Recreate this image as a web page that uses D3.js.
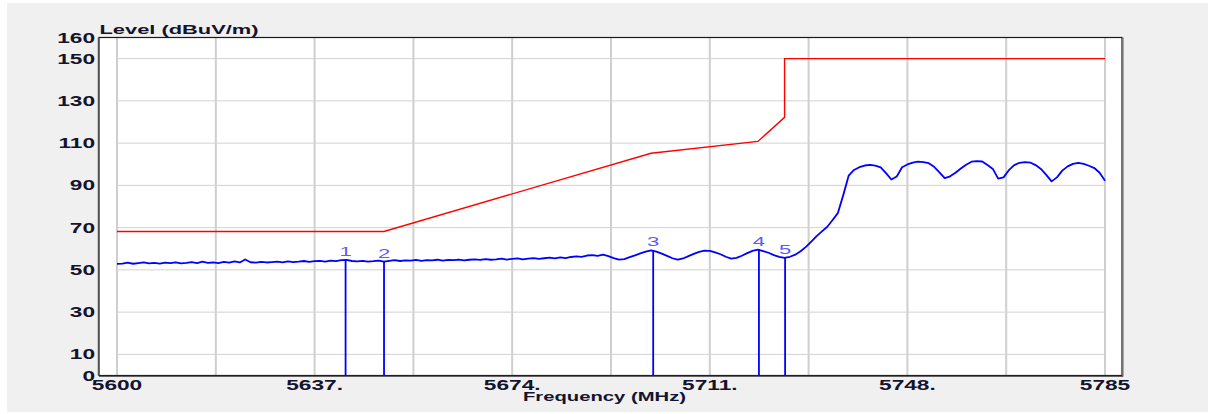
<!DOCTYPE html>
<html>
<head>
<meta charset="utf-8">
<script src="https://cdn.jsdelivr.net/npm/d3@7"></script>
<style>
  body { margin: 0; background: #ffffff; }
  svg { display: block; font-family: "Liberation Sans", Arial, sans-serif; }
</style>
</head>
<body>
<svg id="chart" width="1208" height="414"></svg>
<script>
// spectrum sweep, 1 MHz per point starting at 5600 MHz
const sweepStart = 5600;
const sweepStep = 1;
const traceLevels = [
  52.8, 53.0, 53.4, 52.9, 53.2, 53.5, 53.1, 53.3, 53.0, 53.4,
  53.2, 53.6, 53.1, 53.3, 53.7, 53.2, 53.9, 53.3, 53.5, 53.2,
  53.8, 53.4, 54.0, 53.5, 54.9, 53.6, 53.4, 53.8, 53.5, 53.7,
  53.9, 53.6, 54.0, 53.7, 53.9, 54.2, 53.8, 54.1, 54.3, 53.9,
  54.4, 54.1, 54.6, 54.7, 54.2, 54.0, 54.3, 53.9, 54.1, 54.4,
  53.9, 54.3, 54.6, 54.2, 54.5, 54.4, 54.7, 54.3, 54.6, 54.5,
  54.8, 54.4, 54.7, 54.6, 54.9, 54.5, 54.8, 55.0, 54.7, 55.1,
  54.8, 55.0, 55.3, 54.9, 55.2, 55.4, 55.0, 55.3, 55.6, 55.2,
  55.5, 55.8, 55.4, 55.9, 55.6, 56.1, 56.4, 56.2, 56.8, 57.0,
  56.6, 57.2, 56.5, 55.6, 54.9, 55.1, 56.0, 56.9, 57.8, 58.6,
  59.2, 58.6, 57.7, 56.6, 55.5, 54.8, 55.4, 56.5, 57.6, 58.5,
  59.1, 59.0, 58.3, 57.4, 56.2, 55.3, 55.7, 56.7, 57.9, 59.0,
  59.6, 58.9, 58.1, 57.0, 56.2, 55.7, 56.2, 57.2, 58.8, 60.9,
  63.4, 66.0, 68.2, 70.4, 73.6, 77.0, 85.5, 94.6, 97.3, 98.6,
  99.4, 99.7, 99.3, 98.5, 95.8, 92.8, 94.2, 98.6, 99.9, 100.8,
  101.2, 101.0, 100.5, 98.8, 96.2, 93.4, 94.3, 96.0, 98.0, 99.8,
  101.2, 101.5, 101.3, 99.6, 97.8, 93.2, 93.8, 97.2, 99.6, 100.7,
  101.0, 100.8, 99.6, 97.8, 95.0, 91.9, 93.8, 97.0, 99.0, 100.2,
  100.6, 100.2, 99.3, 98.2, 96.0, 92.2
];

// limit line corners
const limitFreqs = [5600, 5650, 5700, 5720, 5725, 5725, 5785];
const limitLevels = [68.2, 68.2, 105.2, 110.8, 122.2, 150, 150];

// markers
const markerNames = ["1", "2", "3", "4", "5"];
const markerFreqs = [5642.8, 5650, 5700.4, 5720.2, 5725.1];
const markerLevels = [54.6, 53.9, 59.3, 59.6, 55.8];

// axes
const xTickValues = [5600, 5637, 5674, 5711, 5748, 5785];
const xTickLabels = ["5600", "5637.", "5674.", "5711.", "5748.", "5785"];
const xGridValues = [5600, 5618.5, 5637, 5655.5, 5674, 5692.5, 5711, 5729.5, 5748, 5766.5, 5785];
const yTickValues = [0, 10, 30, 50, 70, 90, 110, 130, 150, 160];
const yGridValues = [10, 30, 50, 70, 90, 110, 130, 150];

const svg = d3.select("#chart");

// grey panel
svg.append("rect")
  .attr("x", 7).attr("y", 3)
  .attr("width", 1201).attr("height", 409)
  .attr("fill", "#f0f0f0");

const frame = { left: 99, top: 37.5, right: 1122, bottom: 375.5 };

svg.append("rect")
  .attr("x", frame.left).attr("y", frame.top)
  .attr("width", frame.right - frame.left)
  .attr("height", frame.bottom - frame.top)
  .attr("fill", "#ffffff");

const x = d3.scaleLinear().domain([5600, 5785]).range([117, 1105]);
const y = d3.scaleLinear().domain([0, 160]).range([frame.bottom, frame.top]);

// grid
svg.append("g").selectAll("line")
  .data(xGridValues)
  .join("line")
  .attr("x1", d => x(d)).attr("x2", d => x(d))
  .attr("y1", frame.top).attr("y2", frame.bottom)
  .attr("stroke", "#cfcfcf")
  .attr("stroke-width", 2);

svg.append("g").selectAll("line")
  .data(yGridValues)
  .join("line")
  .attr("x1", x(5600)).attr("x2", x(5785))
  .attr("y1", d => y(d)).attr("y2", d => y(d))
  .attr("stroke", "#d2d2d2")
  .attr("stroke-width", 1);

// limit line
const limitData = limitFreqs.map((f, i) => [f, limitLevels[i]]);
svg.append("path")
  .datum(limitData)
  .attr("d", d3.line().x(d => x(d[0])).y(d => y(d[1])))
  .attr("fill", "none")
  .attr("stroke", "#ff0000")
  .attr("stroke-width", 1.4);

// markers
svg.append("g").selectAll("line")
  .data(markerFreqs)
  .join("line")
  .attr("x1", d => x(d)).attr("x2", d => x(d))
  .attr("y1", y(0))
  .attr("y2", (d, i) => y(markerLevels[i]))
  .attr("stroke", "#0000ff")
  .attr("stroke-width", 1.8);

// trace
const traceData = traceLevels.map((v, i) => [sweepStart + i * sweepStep, v]);
svg.append("path")
  .datum(traceData)
  .attr("d", d3.line().x(d => x(d[0])).y(d => y(d[1])))
  .attr("fill", "none")
  .attr("stroke", "#0000ff")
  .attr("stroke-width", 1.8)
  .attr("stroke-linejoin", "round");

svg.append("g").selectAll("text")
  .data(markerNames)
  .join("text")
  .attr("transform", (d, i) => `translate(${x(markerFreqs[i])},${y(markerLevels[i]) - 4}) scale(1.7,1)`)
  .attr("text-anchor", "middle")
  .attr("font-size", 13)
  .attr("fill", "#5a5aff")
  .text(d => d);

// frame
svg.append("rect")
  .attr("x", frame.left).attr("y", frame.top)
  .attr("width", frame.right - frame.left)
  .attr("height", frame.bottom - frame.top)
  .attr("fill", "none")
  .attr("stroke", "#1a1a1a")
  .attr("stroke-width", 1.2);
svg.append("line")
  .attr("x1", frame.left - 0.5).attr("x2", frame.left - 0.5)
  .attr("y1", frame.top).attr("y2", frame.bottom)
  .attr("stroke", "#555").attr("stroke-width", 1.5);
svg.append("line")
  .attr("x1", frame.right + 1).attr("x2", frame.right + 1)
  .attr("y1", frame.top).attr("y2", frame.bottom + 1)
  .attr("stroke", "#777").attr("stroke-width", 1.2);
svg.append("line")
  .attr("x1", frame.left).attr("x2", frame.right + 1)
  .attr("y1", frame.bottom + 0.8).attr("y2", frame.bottom + 0.8)
  .attr("stroke", "#444").attr("stroke-width", 1);

// tick labels (the source picture is stretched sideways)
const labelColor = "#14142e";
svg.append("g").selectAll("text")
  .data(yTickValues)
  .join("text")
  .attr("transform", d => `translate(95,${y(d) + 5}) scale(1.62,1)`)
  .attr("text-anchor", "end")
  .attr("font-size", 14)
  .attr("font-weight", "bold")
  .attr("fill", labelColor)
  .text(d => d);

svg.append("g").selectAll("text")
  .data(xTickValues)
  .join("text")
  .attr("transform", d => `translate(${x(d)},390) scale(1.62,1)`)
  .attr("text-anchor", "middle")
  .attr("font-size", 14)
  .attr("font-weight", "bold")
  .attr("fill", labelColor)
  .text((d, i) => xTickLabels[i]);

svg.append("text")
  .attr("x", 99.5).attr("y", 33.5)
  .attr("font-size", 12)
  .attr("font-weight", "bold")
  .attr("fill", labelColor)
  .attr("textLength", 159)
  .attr("lengthAdjust", "spacingAndGlyphs")
  .text("Level (dBuV/m)");

svg.append("text")
  .attr("x", 523).attr("y", 400.5)
  .attr("font-size", 12)
  .attr("font-weight", "bold")
  .attr("fill", labelColor)
  .attr("textLength", 163)
  .attr("lengthAdjust", "spacingAndGlyphs")
  .text("Frequency (MHz)");
</script>
</body>
</html>
